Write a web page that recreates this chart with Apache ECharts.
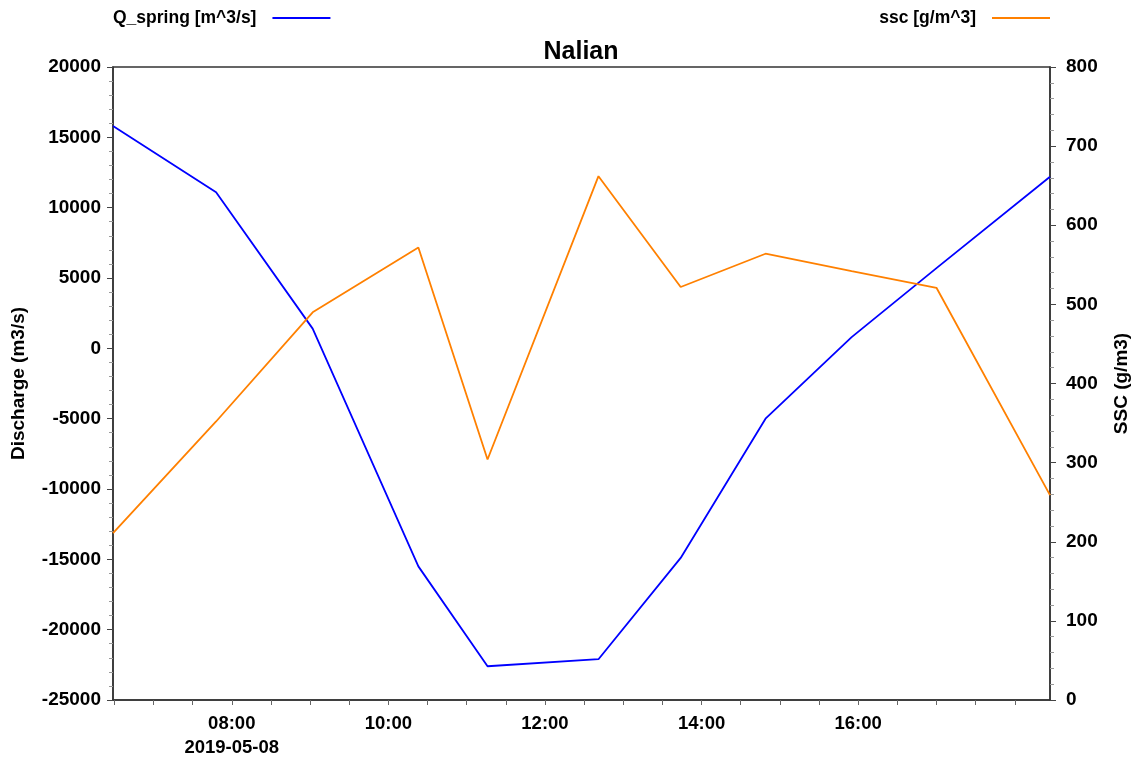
<!DOCTYPE html>
<html><head><meta charset="utf-8">
<script src="https://cdn.jsdelivr.net/npm/echarts@6/dist/echarts.min.js"></script>
<style>html,body{margin:0;padding:0;background:#fff}#c{width:1143px;height:760px}</style>
</head><body><div id="c"></div>
<script>
// Sample times (shared by both series)
const times = ['2019-05-08 06:29','2019-05-08 07:48','2019-05-08 09:02','2019-05-08 10:23','2019-05-08 11:16',
  '2019-05-08 12:41','2019-05-08 13:44','2019-05-08 14:49','2019-05-08 15:55','2019-05-08 17:00','2019-05-08 18:27'];
// Q_spring [m^3/s]
const qSpring = [15800, 11100, 1400, -15500, -22600, -22100, -14900, -5000, 800, 5700, 12200];
// ssc [g/m^3]
const ssc = [211, 352, 490, 572, 304, 662, 522, 564, 542, 521, 259];
// x-axis label times
const xLabelTimes = ['2019-05-08 08:00','2019-05-08 10:00','2019-05-08 12:00','2019-05-08 14:00','2019-05-08 16:00'];
const dateLabel = '2019-05-08';
const seriesNames = ['Q_spring [m^3/s]', 'ssc [g/m^3]'];
const title = 'Nalian';
const leftName = 'Discharge (m3/s)';
const rightName = 'SSC (g/m3)';

const toMs = s => new Date(s.replace(' ', 'T')).getTime();
const xMin = toMs(times[0]), xMax = toMs(times[times.length - 1]);
const labelVals = xLabelTimes.map(toMs);
const tickVals = [];
for (let t = toMs('2019-05-08 06:30'); t <= xMax; t += 30 * 60 * 1000) tickVals.push(t);

const FONT = 'Liberation Sans, Arial, sans-serif';
const AX = '#333';
const legendText = { fontFamily: FONT, fontWeight: 'bold', fontSize: 17.5, color: '#000', padding: [0, 11, 0, 0] };

const chart = echarts.init(document.getElementById('c'));
chart.setOption({
  animation: false,
  backgroundColor: '#fff',
  textStyle: { fontFamily: FONT },
  title: {
    text: title, left: 576, textAlign: 'center', top: 35,
    textStyle: { fontFamily: FONT, fontWeight: 'bold', fontSize: 25, color: '#000' }
  },
  legend: [
    { data: [{ name: seriesNames[0], icon: 'rect' }], left: 108, top: 4, align: 'right', itemWidth: 58, itemHeight: 2, itemGap: 10,
      textStyle: legendText },
    { data: [{ name: seriesNames[1], icon: 'rect' }], right: 88, top: 4, align: 'right', itemWidth: 58, itemHeight: 2, itemGap: 10,
      textStyle: legendText }
  ],
  grid: { left: 113, right: 93, top: 67, bottom: 60, show: true, borderColor: AX, borderWidth: 1.5,
    containLabel: false, outerBoundsMode: 'none' },
  xAxis: {
    type: 'value', min: xMin, max: xMax, scale: true,
    axisLine: { show: true, onZero: false, lineStyle: { color: AX, width: 1.5 } },
    axisTick: { show: true, length: 5, lineStyle: { color: '#666' }, customValues: tickVals },
    minorTick: { show: false },
    splitLine: { show: false },
    axisLabel: {
      customValues: labelVals, margin: 12, fontFamily: FONT, fontWeight: 'bold', fontSize: 18.5, color: '#000', lineHeight: 24,
      formatter: function (v) {
        const d = new Date(v);
        const s = String(d.getHours()).padStart(2, '0') + ':' + String(d.getMinutes()).padStart(2, '0');
        return v === labelVals[0] ? s + '\n' + dateLabel : s;
      }
    }
  },
  yAxis: [
    { type: 'value', min: -25000, max: 20000, interval: 5000, position: 'left',
      name: leftName, nameLocation: 'middle', nameGap: 85,
      nameTextStyle: { fontFamily: FONT, fontWeight: 'bold', fontSize: 19, color: '#000' },
      axisLine: { show: true, lineStyle: { color: AX, width: 1.5 } },
      axisTick: { show: true, length: 6, lineStyle: { color: '#444' } },
      minorTick: { show: true, splitNumber: 5, length: 4, lineStyle: { color: '#999' } },
      splitLine: { show: false },
      axisLabel: { margin: 12, fontFamily: FONT, fontWeight: 'bold', fontSize: 19, color: '#000', formatter: v => String(v) } },
    { type: 'value', min: 0, max: 800, interval: 100, position: 'right',
      name: rightName, nameLocation: 'middle', nameGap: 62, nameRotate: 90,
      nameTextStyle: { fontFamily: FONT, fontWeight: 'bold', fontSize: 19, color: '#000' },
      axisLine: { show: true, lineStyle: { color: AX, width: 1.5 } },
      axisTick: { show: true, length: 6, lineStyle: { color: '#444' } },
      minorTick: { show: true, splitNumber: 5, length: 4, lineStyle: { color: '#999' } },
      splitLine: { show: false },
      axisLabel: { margin: 16, fontFamily: FONT, fontWeight: 'bold', fontSize: 19, color: '#000', formatter: v => String(v) } }
  ],
  series: [
    { name: seriesNames[0], type: 'line', yAxisIndex: 0, symbol: 'none', showSymbol: false,
      lineStyle: { color: '#0000FF', width: 1.8 }, itemStyle: { color: '#0000FF' },
      data: times.map((t, i) => [toMs(t), qSpring[i]]) },
    { name: seriesNames[1], type: 'line', yAxisIndex: 1, symbol: 'none', showSymbol: false,
      lineStyle: { color: '#FF8000', width: 1.8 }, itemStyle: { color: '#FF8000' },
      data: times.map((t, i) => [toMs(t), ssc[i]]) }
  ]
});
</script></body></html>
